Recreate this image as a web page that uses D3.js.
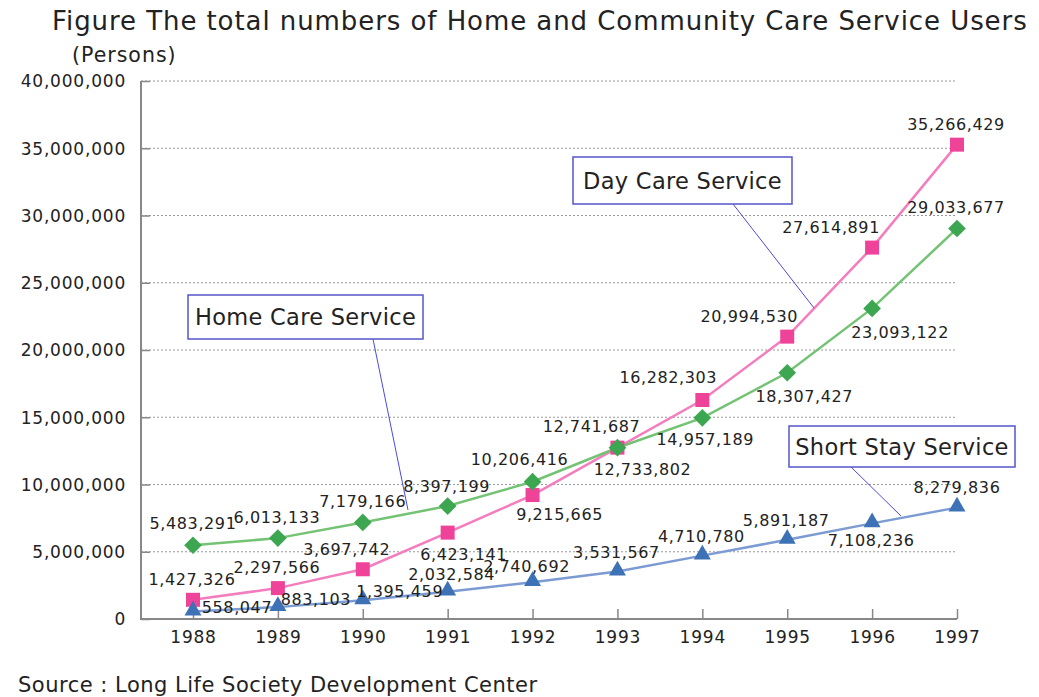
<!DOCTYPE html>
<html>
<head>
<meta charset="utf-8">
<script src="https://cdn.jsdelivr.net/npm/d3@7.9.0/dist/d3.min.js"></script>
<style>
  body { margin: 0; background: #fff; }
  text { font-family: "DejaVu Sans", Verdana, sans-serif; fill: #222; }
</style>
</head>
<body>
<svg id="chart" width="1039" height="697"></svg>
<script>
const years = ["1988", "1989", "1990", "1991", "1992", "1993", "1994", "1995", "1996", "1997"];
const homeCare = [5483291, 6013133, 7179166, 8397199, 10206416, 12733802, 14957189, 18307427, 23093122, 29033677];
const dayCare = [1427326, 2297566, 3697742, 6423141, 9215665, 12741687, 16282303, 20994530, 27614891, 35266429];
const shortStay = [558047, 883103, 1395459, 2032584, 2740692, 3531567, 4710780, 5891187, 7108236, 8279836];
const yTicks = [0, 5000000, 10000000, 15000000, 20000000, 25000000, 30000000, 35000000, 40000000];

const title = "Figure The total numbers of Home and Community Care Service Users";
const unitLabel = "(Persons)";
const sourceLabel = "Source : Long Life Society Development Center";

const svg = d3.select("#chart");
const fmt = d3.format(",");

const plotL = 141, plotR = 957, plotT = 81, plotB = 619;

const x = d3.scalePoint().domain(years).range([193, 957]);
const y = d3.scaleLinear().domain([0, 40000000]).range([plotB, plotT]);

// title and unit
svg.append("text").attr("x", 52).attr("y", 30)
  .style("font-size", "26px").style("letter-spacing", "0.93px").attr("fill", "#111").text(title);
svg.append("text").attr("x", 72).attr("y", 62)
  .style("font-size", "20.5px").style("letter-spacing", "1px").text(unitLabel);
svg.append("text").attr("x", 18).attr("y", 692)
  .style("font-size", "21px").style("letter-spacing", "0.5px").text(sourceLabel);

// grid
svg.append("g").selectAll("line").data(yTicks.filter(d => d > 0)).join("line")
  .attr("x1", plotL).attr("x2", plotR)
  .attr("y1", d => y(d)).attr("y2", d => y(d))
  .attr("stroke", "#999").attr("stroke-width", 1).attr("stroke-dasharray", "2,2");

// y axis
const yAxis = svg.append("g").attr("transform", `translate(${plotL},0)`)
  .call(d3.axisRight(y).tickValues(yTicks).tickFormat(fmt).tickSize(9).tickPadding(0));
yAxis.select(".domain").remove();
yAxis.selectAll(".tick line").attr("stroke", "#888").attr("stroke-width", 1.5);
yAxis.selectAll(".tick text")
  .attr("x", -15).attr("dy", "0.35em").attr("text-anchor", "end")
  .style("font-size", "17px").style("letter-spacing", "0.8px")
  .style("font-family", "'DejaVu Sans', Verdana, sans-serif").attr("fill", "#222");

// x axis
const xAxis = svg.append("g").attr("transform", `translate(0,${plotB})`)
  .call(d3.axisTop(x).tickSize(10).tickPadding(0));
xAxis.select(".domain").remove();
xAxis.selectAll(".tick line").attr("stroke", "#888").attr("stroke-width", 1.5);
xAxis.selectAll(".tick text")
  .attr("y", 24).attr("dy", 0)
  .style("font-size", "17px").style("letter-spacing", "0.8px")
  .style("font-family", "'DejaVu Sans', Verdana, sans-serif").attr("fill", "#222");

// axis lines
svg.append("path")
  .attr("d", `M${plotL},${plotT}V${plotB}H${plotR}`)
  .attr("fill", "none").attr("stroke", "#888").attr("stroke-width", 2);

// series
const series = [
  { name: "day", values: dayCare, line: "#f47dbd", mark: "#ee4399", shape: d3.symbolSquare, size: 196,
    offs: [[-1,-15],[-1,-15],[-16,-14],[16,27],[27,25],[-26,-16],[-34,-17],[-38,-15],[-41,-15],[-1,-15]] },
  { name: "home", values: homeCare, line: "#74c374", mark: "#3da650", shape: d3.symbolDiamond2, size: 200,
    offs: [[0,-16],[-1,-15],[0,-15],[-1,-14],[-13,-17],[25,27],[3,27],[17,29],[28,30],[-1,-15]] },
  { name: "short", values: shortStay, line: "#7b9bd2", mark: "#3e72b7", shape: d3.symbolTriangle, size: 125,
    offs: [[44,2],[38,-2],[37,-3],[4,-12],[-6,-10],[-1,-14],[-1,-14],[-1,-14],[-1,23],[0,-15]] }
];

const line = d3.line().x((d, i) => x(years[i])).y(d => y(d));

series.forEach(s => {
  svg.append("path").datum(s.values)
    .attr("d", line).attr("fill", "none")
    .attr("stroke", s.line).attr("stroke-width", 2.5);
});
series.forEach(s => {
  svg.append("g").selectAll("path").data(s.values).join("path")
    .attr("d", d3.symbol(s.shape, s.size))
    .attr("transform", (d, i) => `translate(${x(years[i])},${y(d) + (s.name === "short" ? -1 : 0)})`)
    .attr("fill", s.mark);
});
series.forEach(s => {
  svg.append("g").selectAll("text").data(s.values).join("text")
    .attr("x", (d, i) => x(years[i]) + s.offs[i][0])
    .attr("y", (d, i) => y(d) + s.offs[i][1])
    .attr("text-anchor", "middle")
    .style("font-size", "16px").style("letter-spacing", "0.6px")
    .text(d => fmt(d));
});

// callouts
const callouts = [
  { label: "Day Care Service", box: [573, 157, 219, 47], from: [733, 204], to: [814, 308] },
  { label: "Home Care Service", box: [188, 295, 235, 44], from: [373, 339], to: [408, 510] },
  { label: "Short Stay Service", box: [789, 426, 226, 41], from: [851, 467], to: [901, 516] }
];
callouts.forEach(c => {
  svg.append("line")
    .attr("x1", c.from[0]).attr("y1", c.from[1]).attr("x2", c.to[0]).attr("y2", c.to[1])
    .attr("stroke", "#4a4ae0").attr("stroke-width", 1);
  svg.append("rect")
    .attr("x", c.box[0]).attr("y", c.box[1]).attr("width", c.box[2]).attr("height", c.box[3])
    .attr("fill", "#fff").attr("stroke", "#5555cc").attr("stroke-width", 1.5);
  svg.append("text")
    .attr("x", c.box[0] + c.box[2] / 2).attr("y", c.box[1] + c.box[3] / 2 + 8)
    .attr("text-anchor", "middle")
    .style("font-size", "22.5px").style("letter-spacing", "0.3px").text(c.label);
});
</script>
</body>
</html>
